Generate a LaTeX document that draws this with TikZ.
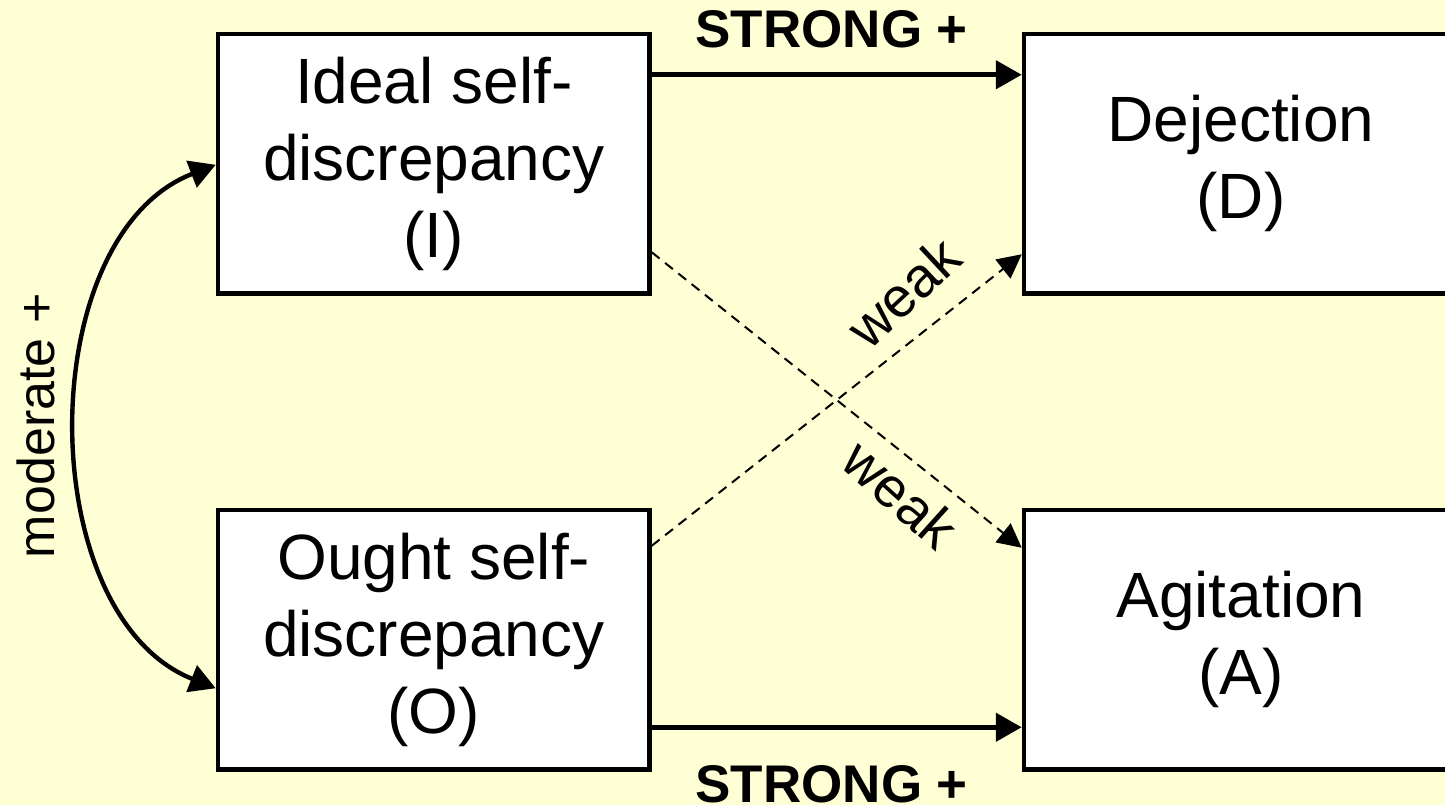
\documentclass[tikz,border=0pt]{standalone}
\usepackage{fontspec}
\setmainfont{Liberation Sans}
\usetikzlibrary{arrows.meta,calc}
\definecolor{paper}{RGB}{255,255,213}
\begin{document}
\begin{tikzpicture}[x=0.5pt,y=-0.5pt,
  box/.style={draw=black, line width=2.25pt, fill=white,
    minimum height=129.75pt, inner sep=0pt, align=center,
    font=\fontsize{32}{38.5}\selectfont},
  solidlink/.style={line width=2.4pt, -{Triangle[length=13pt,width=14pt]}},
  weaklink/.style={line width=1pt, dash pattern=on 5pt off 3.5pt,
    -{Triangle[length=12pt,width=12pt]}},
  bothlink/.style={line width=2.2pt,
    {Triangle[length=13pt,width=14pt]}-{Triangle[length=13pt,width=14pt]}},
  strong/.style={font=\bfseries\fontsize{26.5}{30}\selectfont, inner sep=0pt},
  lbl/.style={font=\fontsize{26}{30}\selectfont, inner sep=0pt},
  weaklbl/.style={font=\fontsize{28}{32}\selectfont, inner sep=0pt}]

% background and page frame
\fill[paper] (0,0) rectangle (1445,805);
\clip (0,0) rectangle (1445,805);

% boxes
\node[box, minimum width=215.75pt] (I) at (433.75,163.75) {Ideal self-\\discrepancy\\(I)};
\node[box, minimum width=215.75pt] (O) at (433.75,639.75) {Ought self-\\discrepancy\\(O)};
\node[box, minimum width=217pt] (D) at (1241,163.75) {Dejection\\(D)};
\node[box, minimum width=217pt] (A) at (1241,639.75) {Agitation\\(A)};

% strong paths
\draw[solidlink] ($(I.north east)+(0,43)$) -- ($(D.north west)+(0,43)$)
  node[strong, midway, anchor=base, yshift=13.5pt, xshift=-2.5pt] {STRONG +};
\draw[solidlink] ($(O.south east)+(0,-44.5)$) -- ($(A.south west)+(0,-44.5)$)
  node[strong, midway, anchor=base, yshift=-37.5pt, xshift=-2.5pt] {STRONG +};

% weak cross paths
\draw[weaklink] ($(I.south east)+(0,-43.5)$) -- ($(A.north west)+(0,40)$)
  node[weaklbl, pos=0.73, xshift=-10.5pt, yshift=-13pt, rotate=-42] {weak};
\draw[weaklink] ($(O.north east)+(0,38)$) -- ($(D.south west)+(0,-41.5)$)
  node[weaklbl, pos=0.75, xshift=-13pt, yshift=17.5pt, rotate=43] {weak};

% correlation between the two discrepancies
\draw[bothlink] ($(O.south west)+(0,-83.5)$) .. controls (32,615) and (32,236) .. ($(I.west)+(0,1)$)
  node[lbl, pos=0.5, sloped, above=10.5pt] {moderate +};
\end{tikzpicture}
\end{document}
